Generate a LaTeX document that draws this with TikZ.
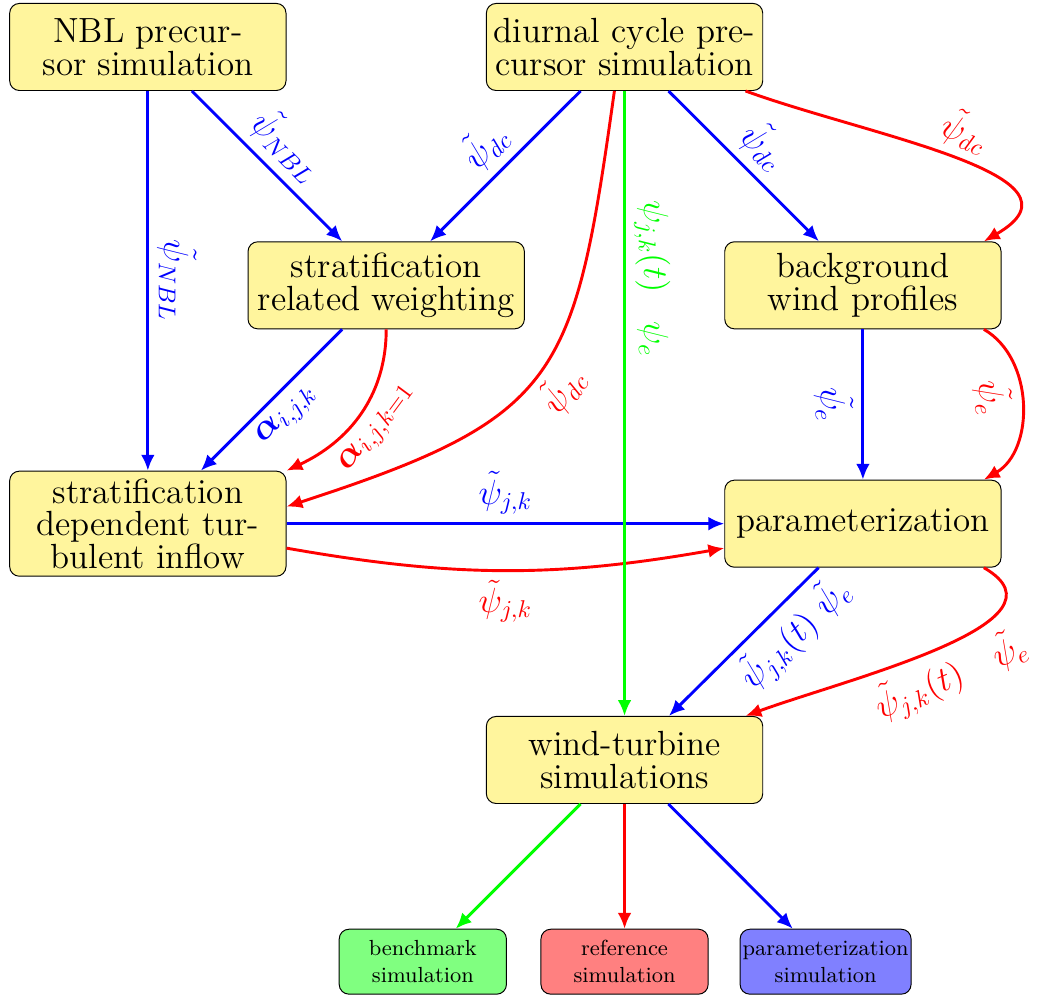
\documentclass[tikz,border=0pt]{standalone}
\usepackage{amsmath, amssymb, bm}
\usepackage{tikz}
\usetikzlibrary{arrows.meta, positioning, calc}
\definecolor{boxyellow}{RGB}{255, 245, 157}

\tikzset{
    bigbox/.style={draw, rounded corners=4pt, fill=boxyellow, font=\fontsize{14.4}{13.5}\selectfont, align=center, minimum width=4cm, minimum height=1.26cm, inner sep=3pt},
    smallbox/.style={draw, rounded corners=4pt, font=\small, align=center, minimum width=2.42cm, minimum height=0.94cm, inner xsep=1pt},
    flow/.style={very thick, -{Latex[length=2.3mm, width=2mm]}},
    lbl/.style={font=\Large, sloped}
}

\begin{document}
\begin{tikzpicture}
    \useasboundingbox (0,0) rectangle (15.14,14.46);

    % Precursors (Top)
    \node[bigbox] (nbl) at (2.14, 13.78) {NBL precur-\\sor simulation};
    \node[bigbox] (diurnal) at (9.04, 13.78) {diurnal cycle pre-\\cursor simulation};

    % Middle Row
    \node[bigbox] (weight) at (5.59, 10.33) {stratification\\related weighting};
    \node[bigbox] (background) at (12.49, 10.33) {background\\wind profiles};
    \node[bigbox] (inflow) at (2.14, 6.88) {stratification\\dependent tur-\\bulent inflow};
    \node[bigbox] (param) at (12.49, 6.88) {parameterization};
    \node[bigbox] (wt) at (9.04, 3.46) {wind-turbine\\simulations};

    % Results (Bottom)
    \node[smallbox, fill=green!50] (bench) at (6.12, 0.54) {benchmark\\simulation};
    \node[smallbox, fill=red!50] (refsim) at (9.04, 0.54) {reference\\simulation};
    \node[smallbox, fill=blue!50] (paramsim) at (11.95, 0.54) {parameterization\\simulation};

    % Blue path
    \draw[flow, blue] (nbl) -- (inflow) node[midway, above, lbl] {$\tilde{\psi}_{NBL}$};
    \draw[flow, blue] (nbl) -- (weight) node[midway, above, lbl] {$\tilde{\psi}_{NBL}$};
    \draw[flow, blue] (diurnal) -- (weight) node[midway, above, lbl] {$\tilde{\psi}_{dc}$};
    \draw[flow, blue] (diurnal) -- (background) node[midway, above, lbl] {$\tilde{\psi}_{dc}$};
    \draw[flow, blue] (weight) -- (inflow) node[midway, below, lbl] {$\bm{\alpha}_{i,j,k}$};
    \draw[flow, blue] (background) -- (param) node[midway, below, lbl] {$\tilde{\psi}_e$};
    \draw[flow, blue] (inflow) -- (param) node[midway, above, lbl] {$\tilde{\psi}_{j,k}$};
    \draw[flow, blue] (param) -- (wt) node[pos=0.3, below, lbl] {$\tilde{\psi}_{j,k}(t)\ \tilde{\psi}_e$};
    \draw[flow, blue] (wt) -- (paramsim);

    % Red path
    \draw[flow, red] (diurnal.-20) to[out=-20, in=30, looseness=1.2] node[midway, above, lbl] {$\tilde{\psi}_{dc}$} (background.20);
    \draw[flow, red] (diurnal.-103) to[out=-98, in=18, looseness=1.4] node[midway, below, lbl] {$\tilde{\psi}_{dc}$} (inflow.7);
    \draw[flow, red] (weight.south) to[out=-90, in=25] node[midway, below, lbl] {$\bm{\alpha}_{i,j,k=1}$} (inflow.north east);
    \draw[flow, red] (background.-20) to[out=-30, in=30] node[pos=0.45, below, lbl] {$\tilde{\psi}_e$} (param.20);
    \draw[flow, red] (inflow.-10) to[bend right=10] node[midway, below, lbl] {$\tilde{\psi}_{j,k}$} (param.190);
    \draw[flow, red] (param.-20) to[out=-30, in=20] node[pos=0.5, below, lbl] {$\tilde{\psi}_{j,k}(t)\quad\tilde{\psi}_e$} (wt.20);
    \draw[flow, red] (wt) -- (refsim);

    % Green path
    \draw[flow, green] (diurnal) -- (wt) node[pos=0.3, above, lbl] {$\psi_{j,k}(t)\;\;\;\psi_e$};
    \draw[flow, green] (wt) -- (bench);
\end{tikzpicture}
\end{document}
